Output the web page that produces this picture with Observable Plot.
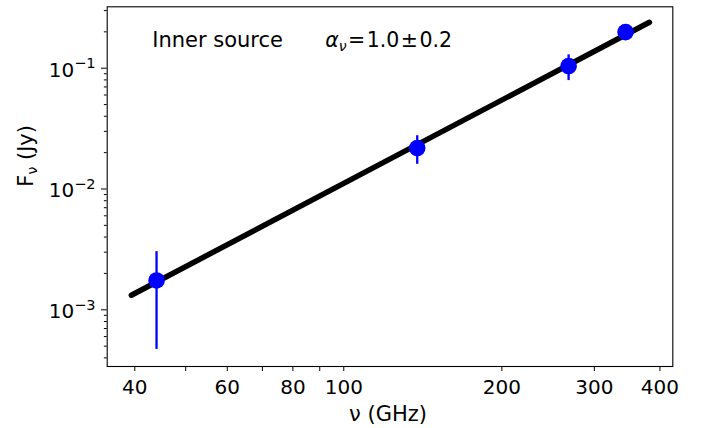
<!DOCTYPE html>
<html><head><meta charset="utf-8">
<script src="https://cdn.jsdelivr.net/npm/d3@7"></script>
<script src="https://cdn.jsdelivr.net/npm/@observablehq/plot@0.6"></script>
<style>
html,body{margin:0;padding:0;background:#fff;}
</style></head><body><div id="chart"></div>
<script>
// ---- data ----
const freqGHz = [44, 138, 268, 344];
const fluxJy = [0.00175, 0.0218, 0.104, 0.199];
const fluxErrJy = [0.00128, 0.0058, 0.025, 0.012];
const fitFreqGHz = [39.4, 382];
const fitFluxJy = [0.00132, 0.240];
const xTickValues = [40, 60, 80, 100, 200, 300, 400];
const xMinorTickValues = [50, 70, 90];
const yTickValues = [0.001, 0.01, 0.1];
const yTickExponents = ["−3", "−2", "−1"];
const yMinorTickValues = [0.0004, 0.0005, 0.0006, 0.0007, 0.0008, 0.0009,
  0.002, 0.003, 0.004, 0.005, 0.006, 0.007, 0.008, 0.009,
  0.02, 0.03, 0.04, 0.05, 0.06, 0.07, 0.08, 0.09, 0.2, 0.3];
const sourceLabel = ["Inner source"];
const alphaLabel = ["αν=1.0±0.2"];
const xLabel = ["ν (GHz)"];
const yLabel = ["Fν (Jy)"];

const points = freqGHz.map((f, i) => ({freq: f, flux: fluxJy[i], lo: fluxJy[i] - fluxErrJy[i], hi: fluxJy[i] + fluxErrJy[i]}));
const fit = fitFreqGHz.map((f, i) => ({freq: f, flux: fitFluxJy[i]}));
const supMap = {"−": "⁻", "1": "¹", "2": "²", "3": "³"};
const yTickText = yTickExponents.map(e => "10" + [...e].map(c => supMap[c]).join(""));
const noText = () => "";

const blue = "#0000ff";
const chart = Plot.plot({
  width: 704, height: 428,
  marginLeft: 106.7, marginRight: 31.7, marginTop: 6.3, marginBottom: 62,
  style: {fontFamily: "'DejaVu Sans', sans-serif", fontSize: "20px", color: "black", background: "white"},
  x: {type: "log", domain: [35.44, 423.2], axis: null},
  y: {type: "log", domain: [3.393e-4, 0.3224], axis: null},
  marks: [
    Plot.line(fit, {x: "freq", y: "flux", stroke: "black", strokeWidth: 5.5}),
    Plot.ruleX(points, {x: "freq", y1: "lo", y2: "hi", stroke: blue, strokeWidth: 2.3}),
    Plot.dot(points, {x: "freq", y: "flux", r: 8.3, fill: blue, stroke: "none"}),
    Plot.frame({stroke: "black", strokeWidth: 1.1}),
    Plot.axisX(xTickValues, {tickSize: 5, tickFormat: noText, label: null}),
    Plot.axisX(xMinorTickValues, {tickSize: 5, tickFormat: noText, label: null}),
    Plot.text(xTickValues, {x: d => d, frameAnchor: "bottom", dy: 13.5, lineAnchor: "top", text: d => String(d), fill: "black", fontSize: 20}),
    Plot.axisY(yTickValues, {tickSize: 5.7, tickFormat: noText, label: null}),
    Plot.axisY(yMinorTickValues, {tickSize: 2.8, tickFormat: noText, label: null}),
    Plot.axisY(yTickValues, {tickSize: 0, tickPadding: 11.7, dy: 2, fontSize: 20, label: null,
      tickFormat: d => yTickText[yTickValues.indexOf(d)]}),
    Plot.text(sourceLabel, {frameAnchor: "top-left", text: d => d, dx: 45, dy: 40.4, textAnchor: "start", lineAnchor: "bottom", fill: "black", fontSize: 21}),
    Plot.text(alphaLabel, {frameAnchor: "top-left", text: d => d, dx: 218, dy: 40.4, textAnchor: "start", lineAnchor: "bottom", fill: "black", fontSize: 20.5}),
    Plot.text(xLabel, {frameAnchor: "bottom", text: d => d, dx: -2, dy: 54.7, lineAnchor: "bottom", fill: "black", fontSize: 21}),
    Plot.text(yLabel, {frameAnchor: "left", text: d => d, rotate: -90, dx: -74.4, lineAnchor: "bottom", fill: "black", fontSize: 21})
  ]
});
document.getElementById("chart").appendChild(chart);

// rich-text formatting (sub/superscripts) of the labels
d3.select(chart).selectAll("text").each(function () {
  const t = d3.select(this);
  const s = this.textContent;
  const yi = yTickText.indexOf(s);
  if (yi >= 0) {
    t.text(null);
    t.append("tspan").text("10");
    t.append("tspan").attr("font-size", "14.5px").attr("dy", -8.4).text(yTickExponents[yi]);
  } else if (s === alphaLabel[0]) {
    t.text(null);
    t.append("tspan").attr("font-style", "italic").text("α");
    t.append("tspan").attr("font-style", "italic").attr("font-size", "14px").attr("dy", 4).text("ν");
    t.append("tspan").attr("dy", -4).attr("dx", 1.5).text("=");
    t.append("tspan").attr("dx", 1.5).text("1.0");
    t.append("tspan").attr("dx", 1.5).text("±");
    t.append("tspan").attr("dx", 1.5).text("0.2");
  } else if (s === yLabel[0]) {
    t.text(null);
    t.append("tspan").text("F");
    t.append("tspan").attr("font-size", "14px").attr("dy", 4).text("ν");
    t.append("tspan").attr("dy", -4).text(" (Jy)");
  }
});
</script></body></html>
